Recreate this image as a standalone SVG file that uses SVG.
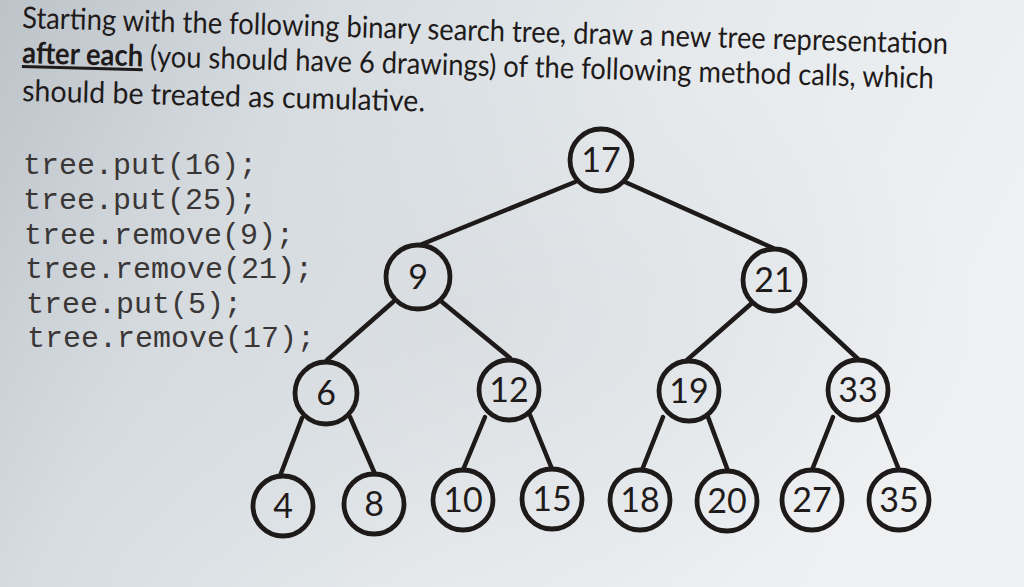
<svg xmlns="http://www.w3.org/2000/svg" width="1024" height="587" viewBox="0 0 1024 587">
<defs>
<linearGradient id="paper" x1="0" y1="0" x2="1" y2="0.3">
<stop offset="0" stop-color="#bcc3c9"/>
<stop offset="0.3" stop-color="#d6dce0"/>
<stop offset="0.65" stop-color="#e6eaed"/>
<stop offset="1" stop-color="#eef0f2"/>
</linearGradient>
<radialGradient id="shade" cx="0.45" cy="0.55" r="0.5">
<stop offset="0" stop-color="#d2d6da" stop-opacity="0.5"/>
<stop offset="1" stop-color="#d2d6da" stop-opacity="0"/>
</radialGradient>
<style>
.title{font-family:Lato,"Liberation Sans",sans-serif;font-size:30px;fill:#1f1b1b}
.code{font-family:"Liberation Mono","DejaVu Sans Mono",monospace;font-size:30px;fill:#3a3636}
.node circle{fill:none;stroke:#1f1a1a;stroke-width:4.8}
.node text{font-family:Lato,"Liberation Sans",sans-serif;font-size:34px;fill:#1f1b1b;text-anchor:middle}
.edges line{stroke:#1f1a1a;stroke-width:4.5;stroke-linecap:round}
</style>
</defs>
<rect width="1024" height="587" fill="url(#paper)"/>
<rect width="1024" height="587" fill="url(#shade)"/>

<g id="title">
<text class="title" x="22" y="28" transform="rotate(1.6 22 28)" textLength="926" lengthAdjust="spacingAndGlyphs">Starting with the following binary search tree, draw a new tree representation</text>
<text class="title" x="22" y="63" transform="rotate(1.6 22 63)" textLength="912" lengthAdjust="spacingAndGlyphs"><tspan font-weight="bold" text-decoration="underline">after each</tspan> (you should have 6 drawings) of the following method calls, which</text>
<text class="title" x="22" y="101" transform="rotate(1.5 22 101)" textLength="403" lengthAdjust="spacingAndGlyphs">should be treated as cumulative.</text>
</g>

<g id="code">
<text class="code" x="23" y="174">tree.put(16);</text>
<text class="code" x="23" y="209">tree.put(25);</text>
<text class="code" x="24" y="244">tree.remove(9);</text>
<text class="code" x="25" y="278">tree.remove(21);</text>
<text class="code" x="26" y="313">tree.put(5);</text>
<text class="code" x="27" y="347">tree.remove(17);</text>
</g>

<g id="connectors" class="edges">
<line x1="575" y1="182" x2="420" y2="245"/>
<line x1="625" y1="182" x2="773" y2="248"/>
<line x1="393" y1="302" x2="327" y2="360"/>
<line x1="442" y1="302" x2="510" y2="358"/>
<line x1="752" y1="303" x2="687" y2="360"/>
<line x1="797" y1="302" x2="858" y2="359"/>
<line x1="302" y1="418" x2="280" y2="476"/>
<line x1="350" y1="417" x2="375" y2="474"/>
<line x1="485" y1="417" x2="463" y2="470"/>
<line x1="530" y1="415" x2="552" y2="469"/>
<line x1="663" y1="417" x2="642" y2="470"/>
<line x1="708" y1="417" x2="728" y2="471"/>
<line x1="833" y1="417" x2="812" y2="470"/>
<line x1="878" y1="417" x2="899" y2="470"/>
</g>

<g id="n17" class="node"><circle cx="601" cy="160" r="31"/><text x="601" y="172">17</text></g>
<g id="n9" class="node"><circle cx="418" cy="277" r="32"/><text x="418" y="289">9</text></g>
<g id="n21" class="node"><circle cx="774" cy="280" r="31"/><text x="774" y="292">21</text></g>
<g id="n6" class="node"><circle cx="326" cy="393" r="31"/><text x="326" y="405">6</text></g>
<g id="n12" class="node"><circle cx="509" cy="390" r="30"/><text x="509" y="402">12</text></g>
<g id="n19" class="node"><circle cx="689" cy="391" r="30"/><text x="689" y="403">19</text></g>
<g id="n33" class="node"><circle cx="858" cy="390" r="30"/><text x="858" y="402">33</text></g>
<g id="n4" class="node"><circle cx="283" cy="506" r="30"/><text x="283" y="518">4</text></g>
<g id="n8" class="node"><circle cx="374" cy="504" r="30"/><text x="374" y="516">8</text></g>
<g id="n10" class="node"><circle cx="463" cy="500" r="30"/><text x="463" y="512">10</text></g>
<g id="n15" class="node"><circle cx="552" cy="499" r="30"/><text x="552" y="511">15</text></g>
<g id="n18" class="node"><circle cx="640" cy="500" r="30"/><text x="640" y="512">18</text></g>
<g id="n20" class="node"><circle cx="727" cy="501" r="30"/><text x="727" y="513">20</text></g>
<g id="n27" class="node"><circle cx="812" cy="500" r="30"/><text x="812" y="512">27</text></g>
<g id="n35" class="node"><circle cx="899" cy="500" r="30"/><text x="899" y="512">35</text></g>
</svg>
